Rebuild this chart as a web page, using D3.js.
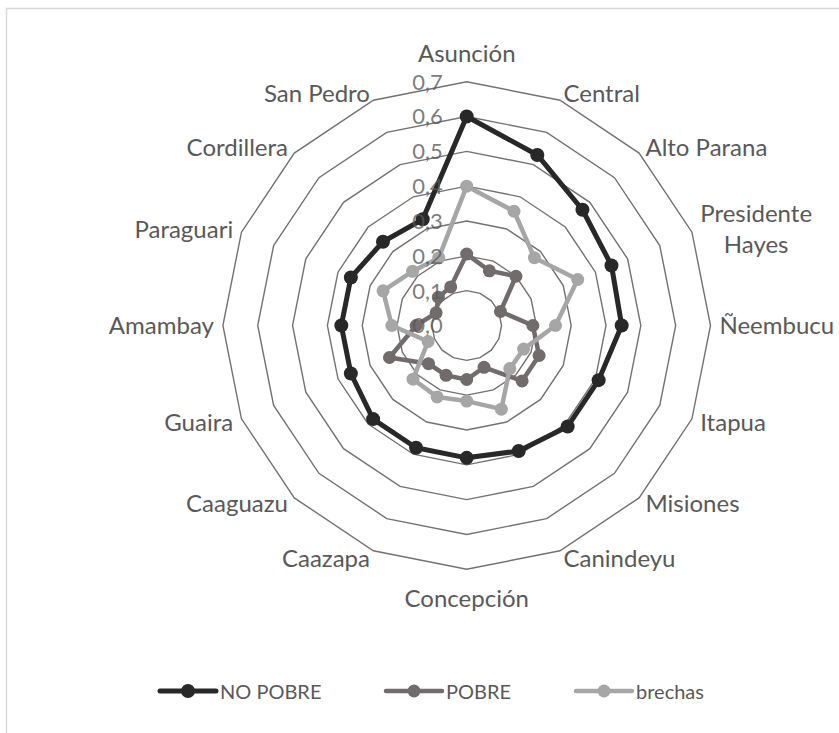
<!DOCTYPE html>
<html>
<head>
<meta charset="utf-8">
<script src="https://cdn.jsdelivr.net/npm/d3@7"></script>
<style>
  html, body { margin: 0; padding: 0; background: #ffffff; }
  svg { display: block; font-family: Lato, "Open Sans", sans-serif; }
</style>
</head>
<body>
<svg id="chart" width="839" height="733"></svg>
<script>
const categories = ["Asunción","Central","Alto Parana","Presidente Hayes","Ñeembucu","Itapua","Misiones","Canindeyu","Concepción","Caazapa","Caaguazu","Guaira","Amambay","Paraguari","Cordillera","San Pedro"];
const noPobre = [0.60, 0.53, 0.47, 0.45, 0.445, 0.41, 0.41, 0.39, 0.38, 0.38, 0.38, 0.36, 0.36, 0.36, 0.34, 0.33];
const pobre   = [0.205, 0.17, 0.20, 0.105, 0.19, 0.225, 0.225, 0.13, 0.155, 0.155, 0.155, 0.24, 0.145, 0.095, 0.115, 0.12];
const brechas = [0.40, 0.355, 0.275, 0.345, 0.255, 0.177, 0.175, 0.26, 0.217, 0.222, 0.218, 0.12, 0.215, 0.26, 0.22, 0.21];
const seriesNames = ["NO POBRE", "POBRE", "brechas"];
const tickValues = [0, 0.1, 0.2, 0.3, 0.4, 0.5, 0.6, 0.7];

const svg = d3.select("#chart");
const cx = 466.7, cy = 325.5, R = 243.8;
const textColor = "#595959";

// outer chart border (clipped on right/bottom like the reference)
svg.append("rect").attr("x", 6.5).attr("y", 8.5).attr("width", 900).attr("height", 900)
  .attr("fill", "none").attr("stroke", "#d9d9d9").attr("stroke-width", 1.5);

const r = d3.scaleLinear().domain([0, 0.7]).range([0, R]);
const step = 2 * Math.PI / categories.length;
const angle = i => i * step;

const g = svg.append("g").attr("transform", `translate(${cx},${cy})`);

// grid rings
const ring = d3.lineRadial().angle((d, i) => angle(i)).radius(d => r(d)).curve(d3.curveLinearClosed);
g.append("g").selectAll("path").data(tickValues.filter(v => v > 0)).join("path")
  .attr("d", v => ring(categories.map(() => v)))
  .attr("fill", "none").attr("stroke", "#767171").attr("stroke-width", 1.4);

// series
const series = [
  { name: seriesNames[0], values: noPobre, color: "#282828", width: 5, rad: 7 },
  { name: seriesNames[1], values: pobre,   color: "#716c6b", width: 4.5, rad: 6.5 },
  { name: seriesNames[2], values: brechas, color: "#a6a6a6", width: 4.5, rad: 6.5 }
];
const line = d3.lineRadial().angle((d, i) => angle(i)).radius(d => r(d)).curve(d3.curveLinearClosed);
const px = (v, i) => r(v) * Math.sin(angle(i));
const py = (v, i) => -r(v) * Math.cos(angle(i));

const fmt = d3.formatLocale({ decimal: ",", thousands: ".", grouping: [3], currency: ["", ""] }).format(".1f");

series.forEach(s => {
  const sg = g.append("g");
  sg.append("path").attr("d", line(s.values)).attr("fill", "none")
    .attr("stroke", s.color).attr("stroke-width", s.width).attr("stroke-linejoin", "round");
  sg.selectAll("circle").data(s.values).join("circle")
    .attr("cx", (d, i) => px(d, i)).attr("cy", (d, i) => py(d, i))
    .attr("r", s.rad).attr("fill", s.color);
});

// tick labels drawn above series (as in reference)
g.append("g").selectAll("text").data(tickValues).join("text")
  .attr("x", -24).attr("y", d => -r(d)).attr("dy", "0.36em")
  .attr("text-anchor", "end").attr("font-size", 22).attr("fill", textColor).attr("fill-opacity", 0.8)
  .text(d => fmt(d));

// category labels
const labelLines = {
  "Presidente Hayes": ["Presidente", "Hayes"]
};
const labG = g.append("g").attr("font-size", 24).attr("fill", textColor);
categories.forEach((c, i) => {
  const a = angle(i);
  const s = Math.sin(a), co = Math.cos(a);
  const lr = R + 9;
  let x = lr * s, y = -lr * co;
  const lines = labelLines[c] || [c];
  const t = labG.append("text");
  const capH = 17.3;
  if (Math.abs(s) < 0.1) {
    t.attr("text-anchor", "middle");
    const base = co > 0 ? y + capH / 2 - (capH / 2 + 11) : y + capH / 2 + (capH / 2 + 11);
    t.attr("x", x).attr("y", base).text(c);
  } else {
    const yc = -R * co - co * 8;
    const lh = 31;
    const n = lines.length;
    if (n === 1) {
      t.attr("text-anchor", s > 0 ? "start" : "end").attr("x", x).attr("y", yc + capH / 2).text(c);
    } else {
      const tmp = labG.append("text").text(lines[0]);
      const w = tmp.node().getComputedTextLength();
      tmp.remove();
      const mx = s > 0 ? x + w / 2 : x - w / 2;
      t.attr("text-anchor", "middle");
      lines.forEach((ln, k) => {
        t.append("tspan").attr("x", mx)
          .attr("y", yc + capH / 2 + (k - (n - 1) / 2) * lh).text(ln);
      });
    }
  }
});

// legend
const legendX = [160, 386, 576];
const legendY = 691;
const lg = svg.append("g");
series.forEach((s, k) => {
  const x0 = legendX[k];
  lg.append("line").attr("x1", x0).attr("x2", x0 + 56).attr("y1", legendY).attr("y2", legendY)
    .attr("stroke", s.color).attr("stroke-width", s.width).attr("stroke-linecap", "round");
  lg.append("circle").attr("cx", x0 + 28).attr("cy", legendY).attr("r", s.rad).attr("fill", s.color);
  lg.append("text").attr("x", x0 + 60).attr("y", legendY + 7.5)
    .attr("font-size", 20).attr("fill", textColor).text(s.name);
});
</script>
</body>
</html>
